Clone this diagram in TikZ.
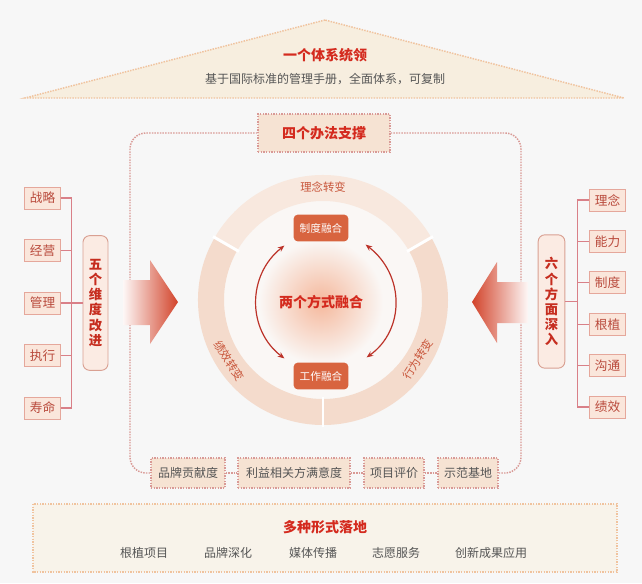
\documentclass[tikz,border=0pt]{standalone}
\usepackage{fontspec}
\setmainfont{Noto Sans CJK SC}
\usetikzlibrary{calc,arrows.meta}
\definecolor{bg}{HTML}{F7F7F7}
\definecolor{disk}{HTML}{FAF7F5}
\definecolor{titred}{HTML}{D42A1E}
\definecolor{txtgray}{HTML}{555555}
\definecolor{peach}{HTML}{F6E3D3}
\definecolor{dotred}{HTML}{D99A96}
\definecolor{dotorg}{HTML}{F0C39E}
\definecolor{cream}{HTML}{F7EEDF}
\definecolor{bandfill}{HTML}{F8F3EA}
\definecolor{itemtxt}{HTML}{B94A3C}
\definecolor{itemfill}{HTML}{FAE6DB}
\definecolor{itemdraw}{HTML}{E5A79B}
\definecolor{linkred}{HTML}{D98088}
\definecolor{ringtop}{HTML}{F8E8DE}
\definecolor{ringside}{HTML}{F4DBCC}
\definecolor{ringtxt}{HTML}{C8553A}
\definecolor{fuse}{HTML}{D8643F}
\definecolor{arcred}{HTML}{BC3329}
\definecolor{arrowred}{HTML}{D2432A}
\definecolor{glow}{HTML}{F5B89C}
\definecolor{vbfill}{HTML}{FBEBE3}
\definecolor{vbdraw}{HTML}{D9A092}
\definecolor{vbtxt}{HTML}{C62D1F}
\tikzset{
  dotline/.style={line width=1.1pt, dash pattern=on 1.1pt off 0.9pt},
  itembox/.style={draw=itemdraw, fill=itemfill, line width=0.6pt, minimum width=27pt,
    minimum height=16.5pt, inner sep=0pt, text=itemtxt, font=\fontsize{9.5}{10}\selectfont},
  link/.style={draw=linkred, line width=0.8pt},
  vbox/.style={draw=vbdraw, fill=vbfill, line width=0.7pt, rounded corners=5pt, inner sep=0pt,
    text=vbtxt, align=center, font=\bfseries\fontsize{10}{11.3}\selectfont},
  botbox/.style={draw=dotred, fill=peach, dotline, minimum height=22.5pt, inner sep=0pt,
    text=txtgray, font=\fontsize{9}{10}\selectfont},
  fusebox/.style={fill=fuse, rounded corners=3pt, minimum width=41pt, minimum height=20pt,
    inner sep=0pt, text=white, font=\fontsize{8}{9}\selectfont},
  ringlabel/.style={text=ringtxt, inner sep=1pt, font=\fontsize{8.5}{9}\selectfont},
  arcarrow/.style={draw=arcred, line width=0.9pt, {Stealth[length=5pt,width=4pt]}-{Stealth[length=5pt,width=4pt]}},
  banditem/.style={text=txtgray, font=\fontsize{9}{10}\selectfont},
}
\begin{document}
\begin{tikzpicture}[x=0.75pt,y=-0.75pt]
\fill[bg] (0,0) rectangle (642,583);
\useasboundingbox (0,0) rectangle (642,583);

% roof
\path[fill=cream, draw=dotorg, dotline] (325,20) -- (25,98) -- (624,98) -- cycle;
\node[text=titred, font=\bfseries\fontsize{10.5}{12}\selectfont] (roof) at (325,55) {一个体系统领};
\node[text=txtgray, font=\fontsize{9}{10}\selectfont] (roofsub) at (325,79) {基于国际标准的管理手册，全面体系，可复制};

% four methods frame
\node[draw=dotred, fill=peach, dotline, minimum width=99pt, minimum height=28.5pt, inner sep=0pt,
  text=titred, font=\bfseries\fontsize{10.5}{12}\selectfont] (m4) at (324,133) {四个办法支撑};
\node[botbox, minimum width=55.5pt] (b1) at (188,473) {品牌贡献度};
\node[botbox, minimum width=84pt] (b2) at (294,473) {利益相关方满意度};
\node[botbox, minimum width=45pt] (b3) at (394,473) {项目评价};
\node[botbox, minimum width=45pt] (b4) at (468,473) {示范基地};
\draw[dotred, dotline, rounded corners=12pt] (m4.west) -| (130,473) -- (b1.west);
\draw[dotred, dotline, rounded corners=12pt] (m4.east) -| (521,473) -- (b4.east);
\draw[dotred, dotline] (b1.east) -- (b2.west);
\draw[dotred, dotline] (b2.east) -- (b3.west);
\draw[dotred, dotline] (b3.east) -- (b4.west);

% left items
\node[itembox] (l1) at (42.5,198) {战略};
\node[itembox] (l2) at (42.5,250.5) {经营};
\node[itembox] (l3) at (42.5,303) {管理};
\node[itembox] (l4) at (42.5,355.5) {执行};
\node[itembox] (l5) at (42.5,408) {寿命};
\node[vbox, minimum width=18.75pt, minimum height=101pt] (L) at (95.5,303) {五\\个\\维\\度\\改\\进};
\draw[link] (l1.east) -- ++(11,0) |- (l5.east);
\foreach \i in {2,3,4} { \draw[link] (l\i.east) -- ++(11,0); }
\draw[link] (l3.east) -- (L.west);

% right items
\node[itembox] (r1) at (607.5,200) {理念};
\node[itembox] (r2) at (607.5,241.4) {能力};
\node[itembox] (r3) at (607.5,282.8) {制度};
\node[itembox] (r4) at (607.5,324.2) {根植};
\node[itembox] (r5) at (607.5,365.6) {沟通};
\node[itembox] (r6) at (607.5,407) {绩效};
\node[vbox, minimum width=20pt, minimum height=100pt] (R) at (551.5,301.5) {六\\个\\方\\面\\深\\入};
\draw[link] (r1.west) -- ++(-12,0) |- (r6.west);
\foreach \i in {2,3,4,5} { \draw[link] (r\i.west) -- ++(-12,0); }
\coordinate (rbus) at (578,301.5);
\draw[link] (R.east) -- (rbus);

% big arrows
\shade[left color=arrowred!4, right color=arrowred]
  (123,280) -- (150,280) -- (150,260) -- (178,302) -- (150,344) -- (150,325) -- (123,325) -- cycle;
\shade[left color=arrowred, right color=arrowred!4]
  (528,282) -- (497,282) -- (497,262) -- (472,302) -- (497,343) -- (497,323) -- (528,323) -- cycle;

% centre ring
\coordinate (c) at (323,300);
\fill[disk] (c) circle (100);
\shade[inner color=glow, outer color=disk] (321,302) circle (62);
\fill[ringtop] ($(c)+(-30:125)$) arc[start angle=-30, end angle=-150, radius=125]
  -- ($(c)+(-150:99)$) arc[start angle=-150, end angle=-30, radius=99] -- cycle;
\fill[ringside] ($(c)+(-150:125)$) arc[start angle=-150, end angle=-270, radius=125]
  -- ($(c)+(-270:99)$) arc[start angle=-270, end angle=-150, radius=99] -- cycle;
\fill[ringside] ($(c)+(90:125)$) arc[start angle=90, end angle=-30, radius=125]
  -- ($(c)+(-30:99)$) arc[start angle=-30, end angle=90, radius=99] -- cycle;
\foreach \a in {-30,-150,90} { \draw[white, line width=2.2pt] ($(c)+(\a:97)$) -- ($(c)+(\a:127)$); }
\node[ringlabel] (rt) at ($(c)+(-90:113)$) {理念转变};
\node[ringlabel, rotate=-57] (rl) at ($(c)+(-213:112)$) {绩效转变};
\node[ringlabel, rotate=58] (rr) at ($(c)+(32:112)$) {行为转变};

\node[fusebox] (z1) at (321,228) {制度融合};
\node[fusebox] (z2) at (321,376) {工作融合};
\node[text=titred, font=\bfseries\fontsize{10.5}{12}\selectfont] (mid) at (321,302) {两个方式融合};
\draw[arcarrow] ($(z1.south west)+(-9,4)$) .. controls (247,275) and (247,330) .. ($(z2.north west)+(-9,-4)$);
\draw[arcarrow] ($(z1.south east)+(17,3)$) .. controls (405,275) and (405,330) .. ($(z2.north east)+(18,-5)$);

% bottom band
\path[fill=bandfill, draw=dotorg, dotline] (33,504) rectangle (617,572);
\node[text=titred, font=\bfseries\fontsize{10.5}{12}\selectfont] (band) at (325,527) {多种形式落地};
\node[banditem] (f1) at (144,553) {根植项目};
\node[banditem] (f2) at (228,553) {品牌深化};
\node[banditem] (f3) at (313,553) {媒体传播};
\node[banditem] (f4) at (396,553) {志愿服务};
\node[banditem] (f5) at (491,553) {创新成果应用};
\end{tikzpicture}
\end{document}
